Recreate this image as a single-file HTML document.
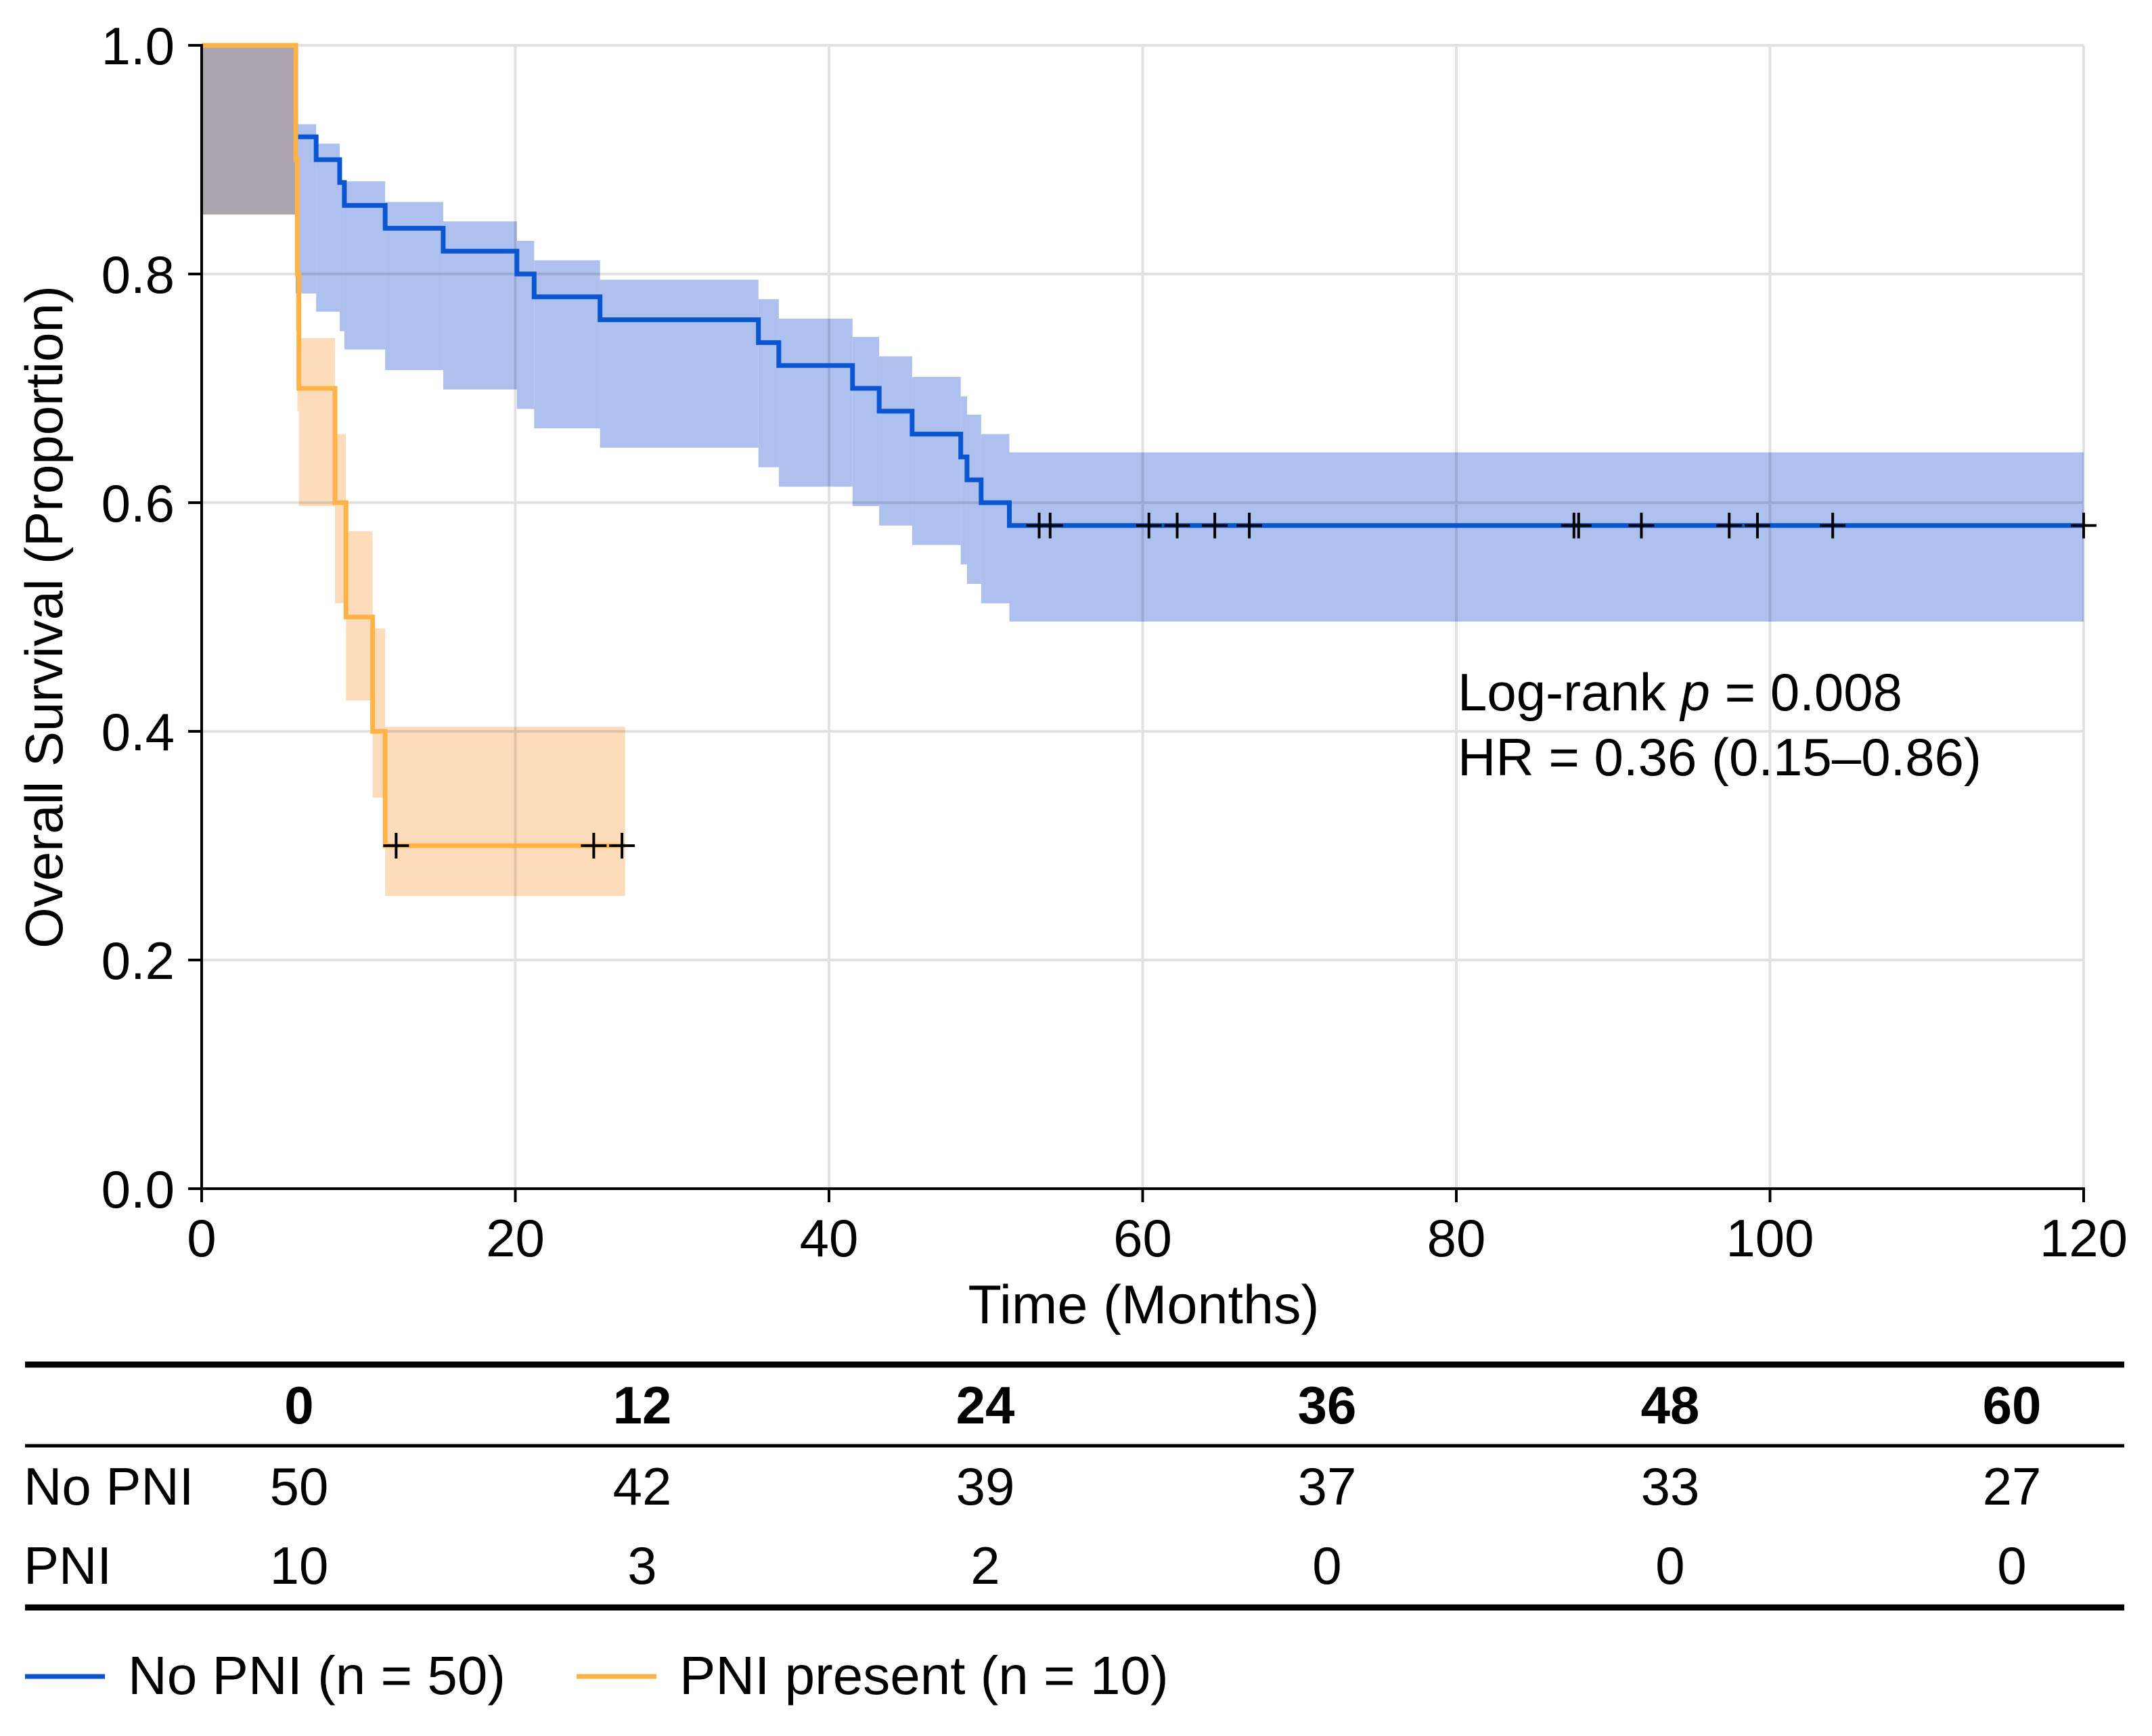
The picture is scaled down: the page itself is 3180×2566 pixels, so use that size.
<!DOCTYPE html>
<html><head><meta charset="utf-8"><style>
html,body{margin:0;padding:0;background:#fff;}
svg{display:block;font-family:"Liberation Sans",Arial,sans-serif;}
</style></head><body>
<svg id="chart" width="3180" height="2566" viewBox="0 0 3180 2566" xmlns="http://www.w3.org/2000/svg">
<g id="grid"></g>
<g id="bands"></g>
<g id="lines"></g>
<g id="axes"></g>
<text transform="translate(92,912) rotate(-90)" text-anchor="middle" font-size="78">Overall Survival (Proportion)</text>
<text x="1690" y="1956" text-anchor="middle" font-size="81">Time (Months)</text>
<text x="2154" y="1050" font-size="78">Log-rank <tspan font-style="italic">p</tspan> = 0.008</text>
<text x="2154" y="1146" font-size="78">HR = 0.36 (0.15–0.86)</text>
<g id="table"></g>
<g>
<g>
<line x1="37" y1="2478" x2="155" y2="2478" stroke="#0a56d2" stroke-width="7"/>
<text x="189" y="2504" font-size="80">No PNI (n = 50)</text></g>
<g>
<line x1="852" y1="2478" x2="970" y2="2478" stroke="#ffb347" stroke-width="7"/>
<text x="1004" y="2504" font-size="80">PNI present (n = 10)</text></g>
</g>
</svg>
<script>
const blueTimes=[0,6,7.3,8.8,9.1,11.7,15.4,20.1,21.2,25.4,35.5,36.8,41.5,43.2,45.3,48.4,48.8,49.7,51.5,120];
const blueSurv=[1,0.92,0.90,0.88,0.86,0.84,0.82,0.80,0.78,0.76,0.74,0.72,0.70,0.68,0.66,0.64,0.62,0.60,0.58];
const blueUpper=[1,0.931,0.914,0.881,0.881,0.863,0.846,0.829,0.812,0.795,0.778,0.761,0.745,0.728,0.710,0.693,0.677,0.660,0.644];
const blueLower=[0.852,0.783,0.767,0.75,0.734,0.716,0.699,0.682,0.665,0.648,0.631,0.614,0.597,0.58,0.563,0.546,0.529,0.512,0.496];
const blueCensor=[53.4,54.1,60.4,62.2,64.6,66.8,87.5,87.8,91.8,97.4,99.2,104,120];
const orangeTimes=[0,6.0,6.1,6.2,8.5,9.2,10.9,11.7,27];
const orangeSurv=[1,0.9,0.8,0.7,0.6,0.5,0.4,0.3];
const orangeUpper=[1,0.95,0.85,0.744,0.660,0.575,0.49,0.404];
const orangeLower=[0.852,0.75,0.68,0.597,0.512,0.427,0.342,0.256];
const orangeCensor=[12.4,25.0,26.8];
const xTicks=[0,20,40,60,80,100,120];
const yTicks=[0,0.2,0.4,0.6,0.8,1.0];
const yTickLabels=["0.0","0.2","0.4","0.6","0.8","1.0"];
const riskTimes=["0","12","24","36","48","60"];
const riskNoPNI=["50","42","39","37","33","27"];
const riskPNI=["10","3","2","0","0","0"];

const NS="http://www.w3.org/2000/svg";
const X0=298,X1=3079,Y0=1757,Y1=67;
const x=t=>X0+(X1-X0)*t/120;
const y=v=>Y0-(Y0-Y1)*v;
function mk(tag,attrs,parent){const e=document.createElementNS(NS,tag);for(const k in attrs)e.setAttribute(k,attrs[k]);parent.appendChild(e);return e;}
const grid=document.getElementById('grid'),bands=document.getElementById('bands'),lines=document.getElementById('lines'),axes=document.getElementById('axes');
xTicks.forEach(t=>{if(t===0)return;const l=mk('line',{x1:x(t),x2:x(t),y1:Y1,y2:Y0,stroke:'#e2e2e2','stroke-width':4},grid);

});
yTicks.forEach(v=>{if(v===0)return;const l=mk('line',{x1:X0,x2:X1,y1:y(v),y2:y(v),stroke:'#e2e2e2','stroke-width':4},grid);

});
function band(times,up,lo,fill,name){const g=mk('g',{style:'mix-blend-mode:multiply'},bands);


for(let i=0;i<up.length;i++){mk('rect',{x:x(times[i]),y:y(up[i]),width:x(times[i+1])-x(times[i]),height:y(lo[i])-y(up[i]),fill:fill},g);}}
band(orangeTimes,orangeUpper,orangeLower,'#fddcbc','pni-ci-band');
band(blueTimes,blueUpper,blueLower,'#aec0ed','no-pni-ci-band');
function curve(times,s,color,name){let d='M'+x(times[0])+' '+y(s[0]);for(let i=0;i<s.length;i++){if(i>0)d+=' V'+y(s[i]);d+=' H'+x(times[i+1]);}
const p=mk('path',{d:d,fill:'none',stroke:color,'stroke-width':7,'stroke-linejoin':'miter'},lines);

}
function survAt(times,s,t){let v=s[0];for(let i=0;i<s.length;i++){if(times[i]<=t)v=s[i];}return v;}
function censors(times,s,cs,name){cs.forEach(t=>{const v=survAt(times,s,t);const g=mk('g',{stroke:'#000','stroke-width':4},lines);


mk('line',{x1:x(t)-19,x2:x(t)+19,y1:y(v),y2:y(v)},g);mk('line',{x1:x(t),x2:x(t),y1:y(v)-19,y2:y(v)+19},g);});}
curve(blueTimes,blueSurv,'#0a56d2','no-pni-curve');
curve(orangeTimes,orangeSurv,'#ffb347','pni-curve');
censors(blueTimes,blueSurv,blueCensor,'no-pni-censor-mark');
censors(orangeTimes,orangeSurv,orangeCensor,'pni-censor-mark');
mk('line',{x1:X0,x2:X0,y1:Y1-2,y2:Y0+2,stroke:'#000','stroke-width':4},axes);
mk('line',{x1:X0-2,x2:X1+2,y1:Y0,y2:Y0,stroke:'#000','stroke-width':4},axes);
xTicks.forEach(t=>{mk('line',{x1:x(t),x2:x(t),y1:Y0,y2:Y0+20,stroke:'#000','stroke-width':4},axes);
const tx=mk('text',{x:x(t),y:Y0+100,'text-anchor':'middle','font-size':78},axes);tx.textContent=t;

});
yTicks.forEach((v,i)=>{mk('line',{x1:X0-20,x2:X0,y1:y(v),y2:y(v),stroke:'#000','stroke-width':4},axes);
const tx=mk('text',{x:X0-40,y:y(v)+28,'text-anchor':'end','font-size':78},axes);tx.textContent=yTickLabels[i];

});
const tb=document.getElementById('table');
mk('line',{x1:37,x2:3139,y1:2017,y2:2017,stroke:'#000','stroke-width':9},tb);
mk('line',{x1:37,x2:3139,y1:2137,y2:2137,stroke:'#000','stroke-width':5},tb);
mk('line',{x1:37,x2:3139,y1:2376,y2:2376,stroke:'#000','stroke-width':9},tb);
const cols=[442,949,1456,1961,2468,2973];
function row(vals,yy,bold,name){vals.forEach((v,i)=>{const t=mk('text',{x:cols[i],y:yy,'text-anchor':'middle','font-size':78,'font-weight':bold?'bold':'normal'},tb);t.textContent=v;

});}
row(riskTimes,2104,true,'risk-time-header');
row(riskNoPNI,2224,false,'risk-no-pni-count');
row(riskPNI,2341,false,'risk-pni-count');
const l1=mk('text',{x:35,y:2224,'font-size':78},tb);l1.textContent='No PNI';


const l2=mk('text',{x:35,y:2341,'font-size':78},tb);l2.textContent='PNI';


</script>
</body></html>
